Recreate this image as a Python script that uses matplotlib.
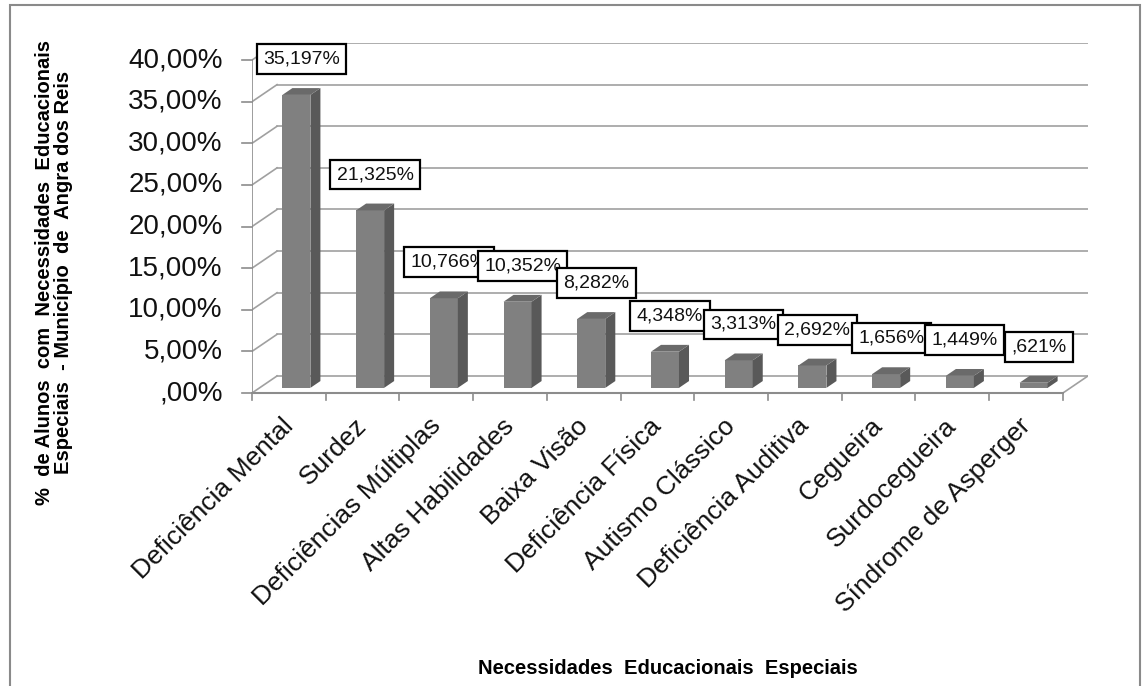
import matplotlib
matplotlib.use('Agg')
import matplotlib.pyplot as plt
from matplotlib.patches import Polygon, Rectangle

plt.rcParams['font.family'] = ['Liberation Sans', 'DejaVu Sans']

# dados do gráfico
categorias = ['Deficiência Mental', 'Surdez', 'Deficiências Múltiplas', 'Altas Habilidades',
              'Baixa Visão', 'Deficiência Física', 'Autismo Clássico', 'Deficiência Auditiva',
              'Cegueira', 'Surdocegueira', 'Síndrome de Asperger']
percentuais = [35.197, 21.325, 10.766, 10.352, 8.282, 4.348, 3.313, 2.692, 1.656, 1.449, 0.621]
rotulos = ['35,197%', '21,325%', '10,766%', '10,352%', '8,282%', '4,348%',
           '3,313%', '2,692%', '1,656%', '1,449%', ',621%']
yticks = [0, 5, 10, 15, 20, 25, 30, 35, 40]
ytick_labels = [',00%', '5,00%', '10,00%', '15,00%', '20,00%', '25,00%', '30,00%', '35,00%', '40,00%']

# efeito 3D (profundidade do piso em unidades de categoria e de %)
DX = 0.34
DY = 2.05
cor_frente = '#808080'
cor_lado = '#595959'
cor_topo = '#6a6a6a'
cor_grade = '#a0a0a0'
cor_eixo = '#8c8c8c'

W, H = 1146, 686
fig = plt.figure(figsize=(W / 100, H / 100), dpi=100)
ax = fig.add_axes([252 / W, 1 - 393 / H, (1088 - 252) / W, (393 - 43) / H])
n = len(categorias)
ax.set_xlim(-0.5, n - 0.5 + DX)
ax.set_ylim(0, 40 + DY)
ax.axis('off')

# moldura externa
fig.patches.append(Rectangle((10 / W, -0.02), (1140 - 10) / W, 1.02 - 5 / H,
                             transform=fig.transFigure, fill=False, ec='#8a8a8a', lw=1.5))

# grades: parede do fundo e parede lateral
for v, lab in zip(yticks, ytick_labels):
    ax.plot([-0.5 + DX, n - 0.5 + DX], [v + DY, v + DY], color=cor_grade, lw=1.2, zorder=1)
    ax.plot([-0.5, -0.5 + DX], [v, v + DY], color=cor_grade, lw=1.2, zorder=1)
    # marcas do eixo y
    ax.plot([-0.63, -0.5], [v, v], color=cor_eixo, lw=1.2, clip_on=False, zorder=2)
    ax.text(-0.9, v, lab, ha='right', va='center', fontsize=20, color='#111111')

# eixo y frontal e piso
ax.plot([-0.5, -0.5], [0, 40], color=cor_eixo, lw=1.2, zorder=2)
ax.plot([-0.5, n - 0.5], [0, 0], color=cor_eixo, lw=1.5, zorder=2, clip_on=False)
ax.plot([n - 0.5, n - 0.5 + DX], [0, DY], color=cor_grade, lw=1.2, zorder=1)
for k in range(n + 1):
    ax.plot([k - 0.5, k - 0.5], [0, -0.85], color=cor_eixo, lw=1.2, clip_on=False, zorder=2)

# barras 3D
f0, f1 = 0.3, 0.7
largura = 0.38
xs = [i + f0 * DX for i in range(n)]
base = f0 * DY
ax.bar(xs, percentuais, width=largura, bottom=base, color=cor_frente, zorder=3)
dd = f1 - f0
for x, v in zip(xs, percentuais):
    x0, x1 = x - largura / 2, x + largura / 2
    lado = [(x1, base), (x1 + dd * DX, base + dd * DY),
            (x1 + dd * DX, base + dd * DY + v), (x1, base + v)]
    topo = [(x0, base + v), (x1, base + v),
            (x1 + dd * DX, base + v + dd * DY), (x0 + dd * DX, base + v + dd * DY)]
    ax.add_patch(Polygon(lado, closed=True, fc=cor_lado, ec='none', zorder=3))
    ax.add_patch(Polygon(topo, closed=True, fc=cor_topo, ec='none', zorder=3))

# rótulos de dados
for i, (v, r) in enumerate(zip(percentuais, rotulos)):
    ax.text(i + 0.5 * DX, v + 0.5 * DY + 3.9, r, ha='center', va='center', fontsize=14,
            color='#111111', zorder=10 + i,
            bbox=dict(boxstyle='square,pad=0.33', fc='white', ec='black', lw=1.6))

# rótulos das categorias
for i, c in enumerate(categorias):
    ax.text(i - 0.11, -2.5, c, rotation=45, rotation_mode='anchor', ha='right', va='top',
            fontsize=19, color='#111111')

# títulos dos eixos
fig.text(54 / W, 1 - 272 / H,
         '%  de Alunos  com  Necessidades  Educacionais\nEspeciais  - Município  de  Angra dos Reis',
         rotation=90, ha='center', va='center', fontsize=14.5, fontweight='bold',
         multialignment='center', linespacing=1.05)
fig.text(668 / W, 1 - 668 / H, 'Necessidades  Educacionais  Especiais',
         ha='center', va='center', fontsize=14.5, fontweight='bold')

fig.savefig('out.png', dpi=100)
